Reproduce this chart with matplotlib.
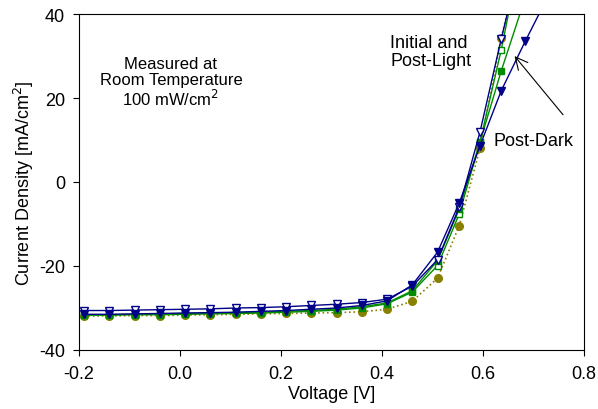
import matplotlib
matplotlib.use("Agg")
import matplotlib.pyplot as plt

plt.rcParams['font.family'] = ['Liberation Sans', 'DejaVu Sans']
plt.rcParams['axes.unicode_minus'] = False

# voltage points (V)
volt = [-0.19, -0.14, -0.09, -0.04, 0.01, 0.06, 0.11, 0.16, 0.21, 0.26,
        0.31, 0.36, 0.41, 0.46, 0.51, 0.553, 0.594, 0.636, 0.684, 0.73]

# current density (mA/cm2) per scan
initial = [-31.9, -31.9, -31.8, -31.8, -31.7, -31.6, -31.5, -31.4, -31.3, -31.2,
           -31.1, -30.9, -30.3, -28.4, -22.9, -10.4, 8.0, 34.3, 58.0, 80.0]
light_sq = [-31.7, -31.7, -31.6, -31.6, -31.5, -31.4, -31.3, -31.2, -31.0, -30.8,
            -30.5, -30.0, -29.0, -26.2, -19.9, -7.6, 9.5, 31.4, 60.0, 85.0]
dark_sq = [-31.6, -31.6, -31.5, -31.4, -31.3, -31.2, -31.1, -31.0, -30.8, -30.6,
           -30.3, -29.7, -28.8, -25.9, -18.7, -6.4, 9.5, 26.4, 44.0, 62.0]
light_tri = [-30.6, -30.6, -30.5, -30.4, -30.3, -30.2, -30.0, -29.9, -29.7, -29.4,
             -29.1, -28.7, -27.9, -24.8, -18.5, -6.0, 11.9, 34.0, 58.0, 80.0]
dark_tri = [-31.5, -31.5, -31.4, -31.3, -31.2, -31.1, -31.0, -30.8, -30.6, -30.3,
            -30.0, -29.4, -28.3, -24.5, -16.7, -5.0, 8.6, 21.7, 33.6, 44.5]

green = '#008c00'
blue = '#000088'
olive = '#888000'

fig = plt.figure(figsize=(5.98, 4.10), dpi=100)
ax = fig.add_axes([79/598, 1 - 351/410, 505/598, 336/410])

ax.plot(volt, initial, ':', color=olive, lw=1.2, marker='o', ms=5.5,
        mfc=olive, mec=olive)
ax.plot(volt, light_sq, '-', color=green, lw=1, marker='s', ms=5,
        mfc='white', mec=green)
ax.plot(volt, dark_sq, '-', color=green, lw=1, marker='s', ms=5,
        mfc=green, mec=green)
ax.plot(volt, light_tri, '-', color=blue, lw=1, marker='v', ms=6,
        mfc='white', mec=blue)
ax.plot(volt, dark_tri, '-', color=blue, lw=1, marker='v', ms=6,
        mfc=blue, mec=blue)

ax.set_xlim(-0.2, 0.8)
ax.set_ylim(-40, 40)
ax.set_xticks([-0.2, 0.0, 0.2, 0.4, 0.6, 0.8])
ax.set_xticklabels(['-0.2', '0.0', '0.2', '0.4', '0.6', '0.8'])
ax.set_yticks([-40, -20, 0, 20, 40])
ax.tick_params(direction='out', length=4, labelsize=13, top=False, right=False)
ax.tick_params(axis='x', pad=7)
ax.tick_params(axis='y', pad=6)
ax.set_xlabel('Voltage [V]', fontsize=13, labelpad=2)
ax.set_ylabel('Current Density [mA/cm$^2$]', fontsize=13, labelpad=2)

ax.text(-0.018, 30.0, 'Measured at\nRoom Temperature\n100 mW/cm$^2$',
        ha='center', va='top', fontsize=12, linespacing=1.05)
ax.text(0.416, 35.3, 'Initial and\nPost-Light', ha='left', va='top',
        fontsize=13, linespacing=1.1)
ax.text(0.62, 10.0, 'Post-Dark', ha='left', va='center', fontsize=13)
ax.annotate('', xy=(0.659, 30.5), xytext=(0.762, 15.5),
            arrowprops=dict(arrowstyle='->', color='black', lw=0.8,
                            mutation_scale=22))

fig.savefig('out.png', dpi=100)
